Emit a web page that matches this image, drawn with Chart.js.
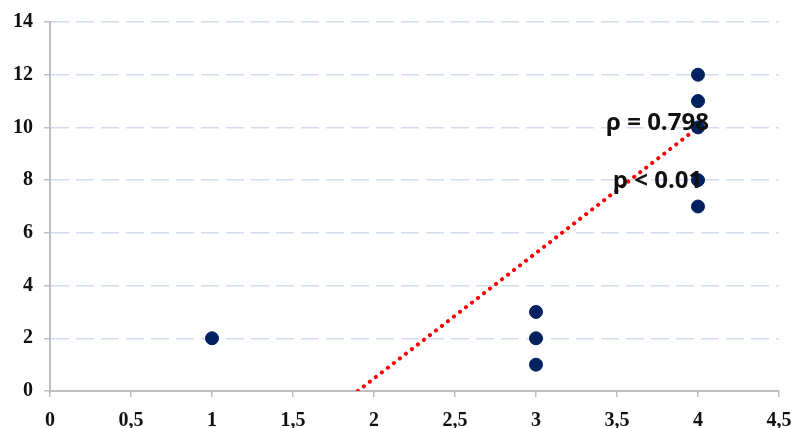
<!DOCTYPE html>
<html>
<head>
<meta charset="utf-8">
<script src="https://cdn.jsdelivr.net/npm/chart.js@4.4.0/dist/chart.umd.min.js"></script>
<style>
html,body{margin:0;padding:0;background:#fff;}
#wrap{width:795px;height:428px;}
</style>
</head>
<body>
<div id="wrap"><canvas id="c" width="795" height="428"></canvas></div>
<script>
const pointX = [1, 3, 3, 3, 4, 4, 4, 4, 4];
const pointY = [2, 1, 2, 3, 7, 8, 10, 11, 12];
const trendX = [1.9, 4];
const trendY = [0, 10];
const xTicks = [0, 0.5, 1, 1.5, 2, 2.5, 3, 3.5, 4, 4.5];
const yTicks = [0, 2, 4, 6, 8, 10, 12, 14];
const annotations = [
  {text: 'ρ = 0.798', x: 3.75, y: 10.15},
  {text: 'p < 0.01', x: 3.75, y: 7.95}
];

const fmt = v => String(v).replace('.', ',');

const textPlugin = {
  id: 'textPlugin',
  afterDatasetsDraw(chart) {
    const {ctx, scales} = chart;
    ctx.save();
    ctx.font = 'bold 24px "Open Sans"';
    ctx.fillStyle = '#111';
    ctx.textAlign = 'center';
    ctx.textBaseline = 'middle';
    annotations.forEach(a => {
      ctx.fillText(a.text, scales.x.getPixelForValue(a.x), scales.y.getPixelForValue(a.y));
    });
    ctx.restore();
  }
};

new Chart(document.getElementById('c'), {
  type: 'scatter',
  data: {
    datasets: [
      {
        data: trendX.map((x, i) => ({x, y: trendY[i]})),
        showLine: true,
        borderColor: '#ff0000',
        borderWidth: 4,
        borderCapStyle: 'round',
        borderDash: [0.1, 7.5],
        pointRadius: 0,
        fill: false,
        order: 2
      },
      {
        data: pointX.map((x, i) => ({x, y: pointY[i]})),
        backgroundColor: '#00215f',
        borderColor: '#00215f',
        pointRadius: 6.5,
        pointHoverRadius: 6.5,
        order: 1
      }
    ]
  },
  options: {
    responsive: false,
    animation: false,
    events: [],
    layout: {padding: {top: 22, right: 16, left: 0, bottom: 0}},
    plugins: {legend: {display: false}, tooltip: {enabled: false}},
    scales: {
      x: {
        type: 'linear',
        min: 0, max: 4.5,
        afterBuildTicks: s => { s.ticks = xTicks.map(v => ({value: v})); },
        afterFit: s => { s.height = 37; s.paddingLeft = 0; s.paddingRight = 0; },
        ticks: {
          callback: fmt,
          color: '#111',
          font: {family: '"Liberation Serif"', size: 20, weight: 'bold'},
          padding: 12,
          maxRotation: 0
        },
        grid: {drawOnChartArea: false, tickColor: '#bfbfbf', tickLength: 6, lineWidth: 1.5},
        border: {color: '#bfbfbf', width: 2}
      },
      y: {
        type: 'linear',
        min: 0, max: 14,
        afterBuildTicks: s => { s.ticks = yTicks.map(v => ({value: v})); },
        afterFit: s => { s.width = 50; s.paddingTop = 0; s.paddingBottom = 0; },
        ticks: {
          callback: fmt,
          color: '#111',
          font: {family: '"Liberation Serif"', size: 20, weight: 'bold'},
          padding: 11
        },
        grid: {
          color: c => c.tick && c.tick.value === 0 ? 'rgba(0,0,0,0)' : '#d3dcef',
          lineWidth: 1.5,
          tickColor: '#bfbfbf',
          tickLength: 6
        },
        border: {color: '#bfbfbf', width: 2, dash: [18, 7]}
      }
    }
  },
  plugins: [textPlugin]
});
</script>
</body>
</html>
